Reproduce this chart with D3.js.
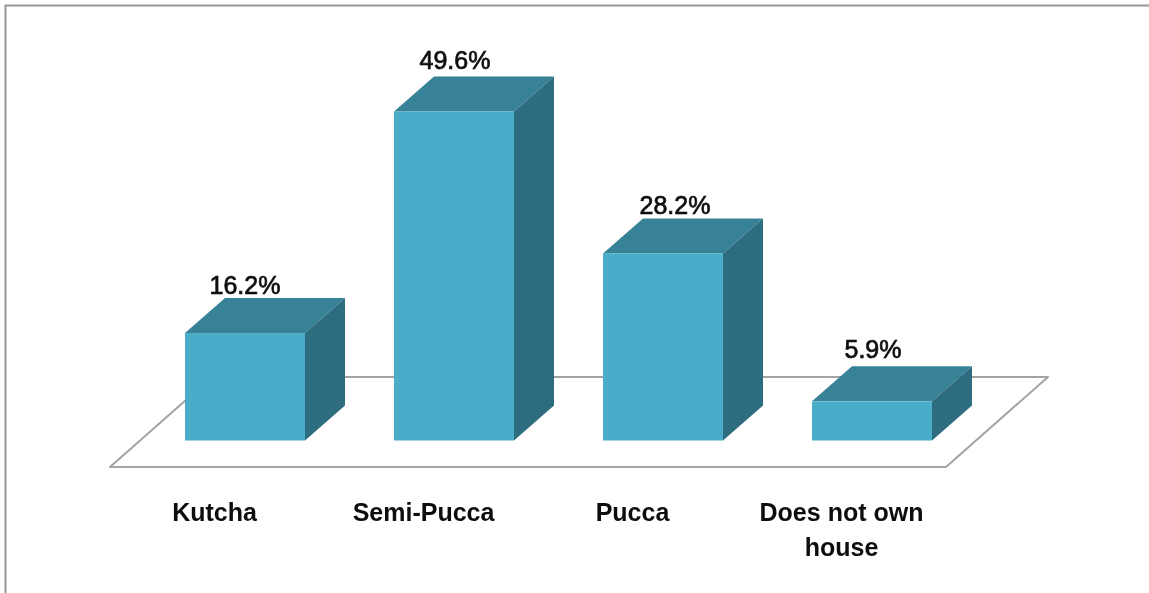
<!DOCTYPE html>
<html>
<head>
<meta charset="utf-8">
<script src="https://cdn.jsdelivr.net/npm/d3@7"></script>
<style>
html,body{margin:0;padding:0;background:#fff;}
svg{display:block;}
text{font-family:"Liberation Sans",Arial,sans-serif;fill:#0c0c0c;}
.cat{font-size:25px;font-weight:700;}
.val{font-size:25px;font-weight:400;stroke:#0c0c0c;stroke-width:.7px;}
</style>
</head>
<body>
<svg id="c" width="1149" height="593"></svg>
<script>
const categories = ["Kutcha","Semi-Pucca","Pucca","Does not own house"];
const categoryLines = [["Kutcha"],["Semi-Pucca"],["Pucca"],["Does not own","house"]];
const values = [16.2,49.6,28.2,5.9];
const valueLabels = ["16.2%","49.6%","28.2%","5.9%"];
const labelShiftX = [0,1,12,1];
const labelShiftY = [1,-3,1,-3];

const W=1149,H=593;
const floorLeft=110,floorRight=946,base=440.5,floorFront=467,floorBack=377;
const dx=40,dy=35,barW=120,barShift=30.5;
const floorDx=102;

const svg=d3.select("#c");
const defs=svg.append("defs");
defs.append("filter").attr("id","soft").attr("x","-5%").attr("y","-5%").attr("width","110%").attr("height","110%")
  .append("feGaussianBlur").attr("stdDeviation",0.45);

const x=d3.scaleBand().domain(categories).range([floorLeft,floorRight]).paddingInner(89/209).paddingOuter(44.5/209);
const xLabel=d3.scaleBand().domain(categories).range([floorLeft,floorRight]);
const y=d3.scaleLinear().domain([0,49.6]).range([base,111.5]);

const root=svg.append("g").attr("filter","url(#soft)");

// outer frame
root.append("path").attr("d",d3.line()([[5.5,H],[5.5,5.5],[W,5.5]]))
  .attr("fill","none").attr("stroke","#969696").attr("stroke-width",2);

// floor
root.append("path")
  .attr("d",d3.line()([[floorLeft,floorFront],[floorRight,floorFront],[floorRight+floorDx,floorBack],[floorLeft+floorDx,floorBack]])+"Z")
  .attr("fill","#fff").attr("stroke","#a3a3a3").attr("stroke-width",2).attr("stroke-linejoin","round");

// bars
const bars=root.selectAll("g.bar").data(categories).join("g").attr("class","bar")
  .attr("transform",`translate(${barShift},0)`);
bars.append("path").attr("fill","#378298")
  .attr("d",(d,i)=>{const l=x(d),t=y(values[i]);return d3.line()([[l,t],[l+dx,t-dy],[l+barW+dx,t-dy],[l+barW,t]])+"Z";});
bars.append("path").attr("fill","#2f6c80")
  .attr("d",(d,i)=>{const r=x(d)+barW,t=y(values[i]);return d3.line()([[r,t],[r+dx,t-dy],[r+dx,base-dy],[r,base]])+"Z";});
bars.append("rect").attr("fill","#4aacc8")
  .attr("x",d=>x(d)).attr("y",(d,i)=>y(values[i])).attr("width",barW).attr("height",(d,i)=>base-y(values[i]));

// value labels
root.selectAll("text.val").data(categories).join("text").attr("class","val")
  .attr("text-anchor","middle")
  .attr("x",(d,i)=>x(d)+barShift+barW/2+labelShiftX[i])
  .attr("y",(d,i)=>y(values[i])-dy-5+labelShiftY[i])
  .text((d,i)=>valueLabels[i]);

// category labels
const cat=root.selectAll("text.cat").data(categories).join("text").attr("class","cat")
  .attr("text-anchor","middle").attr("y",520.5);
cat.selectAll("tspan").data((d,i)=>categoryLines[i].map(t=>({t,d}))).join("tspan")
  .attr("x",e=>xLabel(e.d)+xLabel.bandwidth()/2)
  .attr("dy",(e,j)=>j?35:0).text(e=>e.t);
</script>
</body>
</html>
